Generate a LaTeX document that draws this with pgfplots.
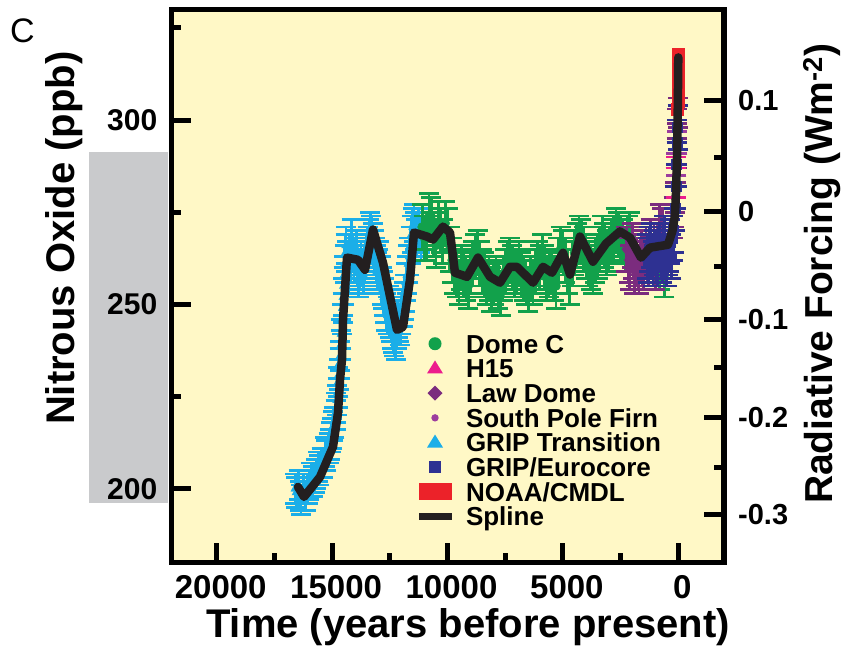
\documentclass[border=0pt]{standalone}
\usepackage{fontspec}
\setmainfont{Liberation Sans}
\usepackage{pgfplots}
\pgfplotsset{compat=1.18}
\definecolor{bgy}{HTML}{FFF8C6}
\definecolor{domec}{HTML}{12A14B}
\definecolor{hfifteen}{HTML}{EC1C8C}
\definecolor{lawdome}{HTML}{7B2C7E}
\definecolor{spfirn}{HTML}{9C3D9E}
\definecolor{grip}{HTML}{1BAEE8}
\definecolor{euro}{HTML}{2E3192}
\definecolor{noaa}{HTML}{EC2229}
\definecolor{spl}{HTML}{231F20}
\definecolor{graybar}{HTML}{C9CACC}
\pgfplotsset{
  errs/.style={
    /pgfplots/error bars/y dir=both,
    /pgfplots/error bars/y explicit,
    /pgfplots/error bars/error mark=|,
    /pgfplots/error bars/error bar style={line width=2.8pt, color=#1, solid},
    /pgfplots/error bars/error mark options={mark size=10pt, line width=2.8pt, color=#1, solid}},
  lbox/.code={\path[draw=none, fill=none] (-17pt,-8pt) rectangle (17pt,8pt);}
}
\pgfplotstableread{
x y e
16600 200 4
16550 199 4
16450 201 4
16400 198 4
16350 197 4
16250 200 4
16150 198 4
16050 200 4
16000 201 4
15900 203 4
15850 202 4
15750 203 4
15700 204 4
15600 206 4
15550 205 4
15450 207 4
15400 207 4
15300 210 4
15250 209 4
15150 211 4
15100 212 4
15050 214 4
15000 215 4
14950 217 4
14900 218 4
14850 220 4
14820 222 4
14790 224 4
14760 226 4
14730 229 4
14700 231 4
14680 234 4
14650 236 4
14620 239 4
14600 242 4
14570 246 4
14550 249 4
14520 252 5
14500 255 5
14470 258 5
14450 261 5
14420 264 5
14400 266 5
14350 262 5
14300 258 5
14250 264 5
14200 261 5
14150 268 5
14100 264 5
14050 261 5
14000 263 5
13950 265 5
13900 260 5
13850 257 5
13800 259 5
13750 262 5
13700 260 5
13650 258 5
13600 261 5
13550 262 5
13500 264 5
13450 266 5
13400 268 5
13350 270 5
13300 269 5
13250 267 5
13200 265 5
13150 263 5
13100 261 5
13050 259 5
13000 260 5
12950 262 5
12900 258 5
12850 255 5
12800 254 5
12750 252 5
12700 250 5
12650 248 5
12600 247 5
12550 250 5
12500 246 5
12450 245 5
12400 243 5
12350 242 5
12300 241 5
12250 240 5
12200 243 5
12150 246 5
12100 245 5
12050 244 5
12000 247 5
11950 249 5
11900 251 5
11850 253 5
11800 256 5
11750 258 5
11700 261 5
11650 263 5
11600 266 5
11550 269 5
11500 271 5
11450 272 5
11400 270 5
11350 268 5
11300 270 5
11250 271 5
11200 269 5
11150 267 5
}\griptable
\pgfplotstableread{
x y e
11100 271 6
11000 268 6
10900 268 6
10800 274 6
10700 273 6
10600 269 6
10500 266 6
10400 272 6
10300 270 6
10200 267 6
10100 272 6
10000 270 6
9900 265 6
9800 262 6
9700 259 6
9600 258 6
9500 256 6
9400 260 6
9300 258 6
9200 257 6
9100 255 6
9000 259 6
8900 261 6
8800 263 6
8700 264 6
8600 261 6
8500 259 6
8400 258 6
8300 256 6
8200 257 6
8100 254 6
8000 256 6
7900 257 6
7800 255 6
7700 253 6
7600 257 6
7500 259 6
7400 261 6
7300 262 6
7200 260 6
7100 258 6
7000 259 6
6900 261 6
6800 258 6
6700 257 6
6600 256 6
6500 254 6
6400 257 6
6300 256 6
6200 259 6
6100 261 6
6000 260 6
5900 263 6
5800 260 6
5700 257 6
5600 258 6
5500 259 6
5400 257 6
5300 255 6
5200 262 6
5100 265 6
5000 264 6
4900 262 6
4800 259 6
4700 256 6
4600 261 6
4500 264 6
4400 266 6
4300 268 6
4200 267 6
4100 265 6
4000 263 6
3900 261 6
3800 260 6
3700 259 6
3600 262 6
3500 263 6
3400 265 6
3300 268 6
3200 266 6
3100 264 6
3000 265 6
2900 267 6
2800 268 6
2700 270 6
2600 269 6
2500 268 6
2400 267 6
2300 265 6
2200 268 6
2100 269 6
2000 266 6
1900 263 6
1800 262 6
1700 260 6
1500 263 6
1400 264 6
1200 265 6
1000 262 6
800 260 6
600 258 6
}\dometable
\pgfplotstableread{
x y e
2250 265 6
2150 262 6
2100 260 6
2000 266 6
1950 263 6
1900 259 6
1850 261 6
1800 262 6
1750 260 6
1700 259 6
1650 262 6
1600 264 6
1550 261 6
1500 260 6
1450 263 6
1400 265 6
1350 262 6
1300 261 6
1250 264 6
1200 267 6
1150 263 6
1100 262 6
1050 266 6
1000 260 6
950 263 6
900 264 6
800 271 6
700 270 6
600 268 6
250 272 4
200 275 4
150 279 4
120 283 4
90 287 4
70 291 4
50 295 4
35 299 4
20 302 4
}\lawtable
\pgfplotstableread{
x y e
100 283 4
80 286 4
}\hfifteentable
\pgfplotstableread{
x y e
80 288 3
60 291 3
45 294 3
}\sptable
\pgfplotstableread{
x y e
1350 263 6
1300 262 6
1250 265 6
1200 266 6
1150 263 6
1100 261 6
1050 264 6
1000 264 6
950 262 6
900 261 6
850 265 6
800 266 6
750 263 6
700 262 6
650 266 6
600 268 6
550 263 6
500 261 6
450 264 6
400 265 6
350 267 6
300 263 6
250 268 6
200 270 6
150 276 6
100 282 6
70 288 6
50 294 6
30 298 6
}\eurotable
\pgfplotstableread{
x y
27 303
24 305
21 307
18 309
15 311
12 313
9 315
6 316
3 317
0 318
}\noaatable
\begin{document}
\begin{tikzpicture}
\fill[graybar] (-82.5pt,59.5pt) rectangle (-3pt,410.5pt);
\begin{axis}[
  scale only axis, width=552.5pt, height=553pt,
  x dir=reverse, xmin=-1980, xmax=21960, ymin=180, ymax=330,
  scaled x ticks=false, scaled y ticks=false,
  clip mode=individual,
  axis background/.style={fill=bgy},
  axis line style={line width=5.5pt, black},
  tick style={line width=5pt, black},
  tick align=inside, major tick length=20pt, minor tick length=10pt,
  xtick pos=bottom, ytick pos=left,
  xtick={0,5000,10000,15000,20000}, xticklabels={0,5000,10000,15000,20000},
  minor xtick={2500,7500,12500,17500},
  ytick={200,250,300}, yticklabels={200,250,300},
  minor ytick={225,275,325},
  xticklabel style={font=\bfseries\fontsize{33}{33}\selectfont, anchor=base, inner sep=0pt, yshift=-35.5pt, xshift=4pt},
  yticklabel style={font=\bfseries\fontsize{30}{30}\selectfont, anchor=east, inner sep=0pt, xshift=-14pt},
  xlabel={Time (years before present)},
  xlabel style={at={(axis description cs:0.537,-0.1348)}, anchor=base, inner sep=0pt, font=\bfseries\fontsize{40}{40}\selectfont},
  ylabel={Nitrous Oxide (ppb)},
  ylabel style={at={(axis description cs:-0.1747,0.5864)}, anchor=base, inner sep=0pt, font=\bfseries\fontsize{40}{40}\selectfont},
  legend cell align=left,
  legend style={at={(axis description cs:0.4462,0.4143)}, anchor=north west, draw=none, fill=none,
    inner sep=0pt, outer sep=0pt, row sep=0pt, column sep=14pt,
    font=\bfseries\fontsize{26}{26}\selectfont,
    nodes={inner sep=0pt, text height=19.7pt, text depth=5pt}},
]
% legend entries
\addlegendimage{legend image code/.code={\pgfkeys{/pgfplots/lbox}\fill[domec, draw=none] (0pt,2pt) circle (6.5pt);}}
\addlegendentry{Dome C}
\addlegendimage{legend image code/.code={\pgfkeys{/pgfplots/lbox}\fill[hfifteen, draw=none] (-8pt,-3pt) -- (8pt,-3pt) -- (0pt,10pt) -- cycle;}}
\addlegendentry{H15}
\addlegendimage{legend image code/.code={\pgfkeys{/pgfplots/lbox}\fill[lawdome, draw=none] (0pt,-5.5pt) -- (7.5pt,2pt) -- (0pt,9.5pt) -- (-7.5pt,2pt) -- cycle;}}
\addlegendentry{Law Dome}
\addlegendimage{legend image code/.code={\pgfkeys{/pgfplots/lbox}\fill[spfirn, draw=none] (0pt,2pt) circle (3.7pt);}}
\addlegendentry{South Pole Firn}
\addlegendimage{legend image code/.code={\pgfkeys{/pgfplots/lbox}\fill[grip, draw=none] (-8pt,-3pt) -- (8pt,-3pt) -- (0pt,10pt) -- cycle;}}
\addlegendentry{GRIP Transition}
\addlegendimage{legend image code/.code={\pgfkeys{/pgfplots/lbox}\fill[euro, draw=none] (-6pt,-4pt) rectangle (6pt,8pt);}}
\addlegendentry{GRIP/Eurocore}
\addlegendimage{legend image code/.code={\pgfkeys{/pgfplots/lbox}\fill[noaa, draw=none] (-16.5pt,-6.5pt) rectangle (16.5pt,10.5pt);}}
\addlegendentry{NOAA/CMDL}
\addlegendimage{legend image code/.code={\pgfkeys{/pgfplots/lbox}\fill[spl, draw=none] (-16.5pt,-1.5pt) rectangle (16.5pt,5.5pt);}}
\addlegendentry{Spline}
% data
\addplot[forget plot, only marks, mark=triangle*, mark size=5pt, color=grip, mark options={fill=grip, draw=grip}, errs=grip]
  table[x=x, y=y, y error=e] {\griptable};
\addplot[forget plot, only marks, mark=*, mark size=4.5pt, color=domec, mark options={fill=domec, draw=domec}, errs=domec]
  table[x=x, y=y, y error=e] {\dometable};
\addplot[forget plot, only marks, mark=diamond*, mark size=6pt, color=lawdome, mark options={fill=lawdome, draw=lawdome}, errs=lawdome]
  table[x=x, y=y, y error=e] {\lawtable};
\addplot[forget plot, only marks, mark=triangle*, mark size=5pt, color=hfifteen, mark options={fill=hfifteen, draw=hfifteen}, errs=hfifteen]
  table[x=x, y=y, y error=e] {\hfifteentable};
\addplot[forget plot, only marks, mark=*, mark size=3pt, color=spfirn, mark options={fill=spfirn, draw=spfirn}, errs=spfirn]
  table[x=x, y=y, y error=e] {\sptable};
\addplot[forget plot, only marks, mark=square*, mark size=5pt, color=euro, mark options={fill=euro, draw=euro}, errs=euro]
  table[x=x, y=y, y error=e] {\eurotable};
\addplot[forget plot, only marks, mark=square*, mark size=6pt, color=noaa, mark options={fill=noaa, draw=noaa}]
  table[x=x, y=y] {\noaatable};
\addplot[forget plot, spl, mark=none, line width=8.5pt, line join=round, line cap=round] coordinates {
(16478,200.5) (16218,197.8) (15525,203.2) (14962,211.4) (14745,220.6) (14658,229.6)
(14572,235.0) (14528,245.8) (14355,262.7) (13879,262.1) (13575,259.4) (13228,270.3)
(12795,261.3) (12189,243.1) (11929,243.9) (11626,256.7) (11452,269.5) (10889,268.4)
(10629,267.6) (10196,271.1) (9893,269.5) (9676,258.6) (9156,257.5) (8679,262.7)
(8159,257.5) (7726,255.9) (7293,260.2) (6989,260.2) (6296,255.9) (5863,260.2)
(5473,258.6) (4996,264.0) (4693,258.1) (4260,268.4) (3697,261.6) (3133,266.5)
(2527,269.8) (2093,268.1) (1617,262.7) (1227,265.4) (446,266.2) (250,270)
(150,274) (100,280) (55,290) (30,300) (10,310) (0,317)};
\end{axis}
\begin{axis}[
  scale only axis, width=552.5pt, height=553pt,
  x dir=reverse, xmin=-1980, xmax=21960, ymin=180, ymax=330,
  scaled x ticks=false, scaled y ticks=false,
  axis x line=none, axis y line*=right,
  axis line style={line width=5.5pt, black, -},
  tick style={line width=5pt, black},
  tick align=inside, major tick length=20pt, minor tick length=10pt,
  ytick={192.9,219.2,245.8,275.2,305.3}, yticklabels={-0.3,-0.2,-0.1,0,0.1},
  minor ytick={205.9,232.8,260.2,289.8},
  yticklabel style={font=\bfseries\fontsize{29}{29}\selectfont, anchor=west, inner sep=0pt, xshift=14pt},
  ylabel={Radiative Forcing (Wm\textsuperscript{-2})},
  ylabel style={at={(axis description cs:1.1955,0.5222)}, anchor=base, inner sep=0pt, rotate=0, font=\bfseries\fontsize{39}{39}\selectfont},
]
\addplot[draw=none, forget plot] coordinates {(10000,250)};
\end{axis}
\node[font=\fontsize{34}{34}\selectfont] at (-149pt,532pt) {C};
\pgfresetboundingbox
\useasboundingbox (-171.5pt,-88.5pt) rectangle (669.5pt,562.5pt);
\end{tikzpicture}
\end{document}
